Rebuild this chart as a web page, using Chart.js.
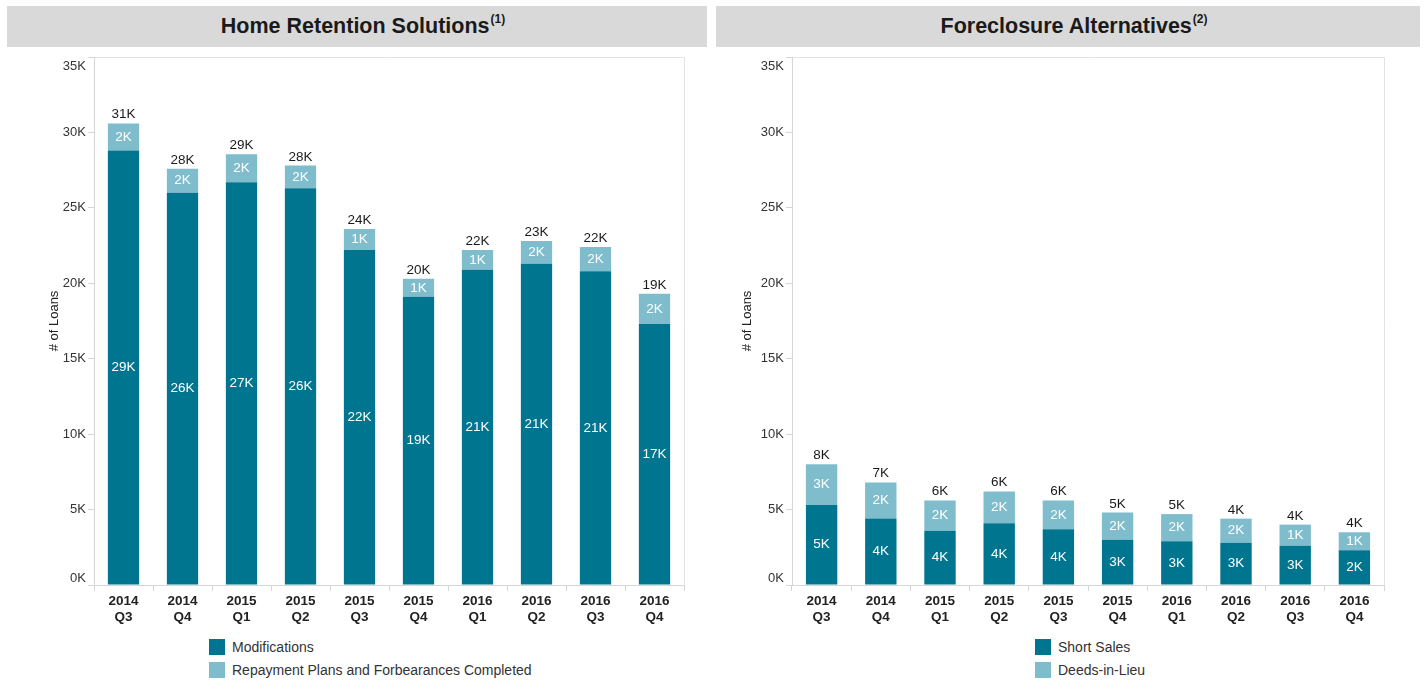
<!DOCTYPE html>
<html lang="en">
<head>
    <meta charset="UTF-8">
    <title>Home Retention Solutions / Foreclosure Alternatives</title>
    <script src="https://cdn.jsdelivr.net/npm/chart.js"></script>
    <style>
        body { margin: 0; background: #fff; font-family: Arial, "Liberation Sans", sans-serif; }
        .page { position: relative; width: 1427px; height: 682px; }
        .header {
            position: absolute; top: 6px; height: 41px; background: #d9d9d9;
            font-weight: bold; font-size: 21.5px; color: #1a1a1a;
            display: flex; align-items: center; justify-content: center;
            box-sizing: border-box; padding-left: 12px;
        }
        .header sup { font-size: 12px; position: relative; top: -8px; margin-left: 1px; }
        .box { position: absolute; top: 48px; height: 582px; }
        .legend { position: absolute; font-size: 14px; color: #333; }
        .legend div { display: flex; align-items: center; height: 23px; }
        .legend span.sw { width: 16px; height: 16px; margin-right: 7px; display: inline-block; }
    </style>
</head>
<body>
<div class="page">
    <div class="header" style="left:7px; width:700px;">Home Retention Solutions<sup>(1)</sup></div>
    <div class="header" style="left:716px; width:704px;">Foreclosure Alternatives<sup>(2)</sup></div>

    <div class="box" style="left:7px; width:700px;"><canvas id="retentionChart"></canvas></div>
    <div class="box" style="left:716px; width:704px;"><canvas id="foreclosureChart"></canvas></div>

    <div class="legend" style="left:209px; top:635px;">
        <div><span class="sw" style="background:#00758f"></span>Modifications</div>
        <div><span class="sw" style="background:#7fbdcd"></span>Repayment Plans and Forbearances Completed</div>
    </div>
    <div class="legend" style="left:1035px; top:635px;">
        <div><span class="sw" style="background:#00758f"></span>Short Sales</div>
        <div><span class="sw" style="background:#7fbdcd"></span>Deeds-in-Lieu</div>
    </div>
</div>

<script>
    // quarters on the x axis
    const quarters = [
        ['2014', 'Q3'], ['2014', 'Q4'], ['2015', 'Q1'], ['2015', 'Q2'], ['2015', 'Q3'],
        ['2015', 'Q4'], ['2016', 'Q1'], ['2016', 'Q2'], ['2016', 'Q3'], ['2016', 'Q4']
    ];

    // values in thousands of loans
    const modifications = [28.8, 26.0, 26.7, 26.3, 22.2, 19.1, 20.9, 21.3, 20.8, 17.3];
    const repaymentPlans = [1.8, 1.6, 1.85, 1.5, 1.4, 1.2, 1.3, 1.5, 1.6, 2.0];

    const shortSales = [5.3, 4.4, 3.6, 4.1, 3.7, 3.0, 2.9, 2.8, 2.6, 2.3];
    const deedsInLieu = [2.7, 2.4, 2.0, 2.1, 1.9, 1.8, 1.8, 1.6, 1.4, 1.2];

    const yTicks = [0, 5, 10, 15, 20, 25, 30, 35];

    const darkTeal = '#00758f';
    const lightTeal = '#7fbdcd';
    const fontFamily = 'Arial, "Liberation Sans", sans-serif';

    // light frame round the plot area
    const frame = {
        id: 'frame',
        beforeDraw(chart) {
            const { ctx, chartArea: a } = chart;
            ctx.save();
            ctx.strokeStyle = '#e3e3e3';
            ctx.lineWidth = 1;
            ctx.beginPath();
            ctx.moveTo(a.left, a.top + 0.5);
            ctx.lineTo(a.right + 0.5, a.top + 0.5);
            ctx.lineTo(a.right + 0.5, a.bottom);
            ctx.stroke();
            ctx.restore();
        }
    };

    // y tick labels, the end ones pulled inside the axis like the original
    const yLabels = {
        id: 'yLabels',
        afterDraw(chart) {
            const { ctx } = chart;
            const y = chart.scales.y;
            ctx.save();
            ctx.font = '13px ' + fontFamily;
            ctx.fillStyle = '#333';
            ctx.textAlign = 'right';
            ctx.textBaseline = 'middle';
            yTicks.forEach(v => {
                let py = y.getPixelForValue(v);
                py = Math.min(Math.max(py, y.top + 9), y.bottom - 7);
                ctx.fillText(v + 'K', y.right - 8, py);
            });
            ctx.restore();
        }
    };

    // segment labels and totals
    const barLabels = {
        id: 'barLabels',
        afterDatasetsDraw(chart) {
            const ctx = chart.ctx;
            ctx.save();
            ctx.font = '13.5px ' + fontFamily;
            ctx.textAlign = 'center';
            const n = chart.data.labels.length;
            for (let i = 0; i < n; i++) {
                let total = 0;
                let topY = null;
                chart.data.datasets.forEach((ds, d) => {
                    const bar = chart.getDatasetMeta(d).data[i];
                    const v = ds.data[i];
                    total += v;
                    ctx.fillStyle = '#ffffff';
                    ctx.textBaseline = 'middle';
                    ctx.fillText(Math.round(v) + 'K', bar.x, (bar.y + bar.base) / 2);
                    topY = bar.y;
                });
                ctx.fillStyle = '#1a1a1a';
                ctx.textBaseline = 'bottom';
                ctx.fillText(Math.round(total) + 'K', chart.getDatasetMeta(0).data[i].x, topY - 2);
            }
            ctx.restore();
        }
    };

    function makeChart(id, names, first, second, axisWidth, rightPad, titlePad) {
        return new Chart(document.getElementById(id), {
            type: 'bar',
            data: {
                labels: quarters,
                datasets: [
                    { label: names[0], data: first, backgroundColor: darkTeal },
                    { label: names[1], data: second, backgroundColor: lightTeal }
                ]
            },
            options: {
                responsive: true,
                maintainAspectRatio: false,
                animation: false,
                categoryPercentage: 1,
                barPercentage: 0.53,
                layout: { padding: { top: 9, right: rightPad } },
                plugins: {
                    legend: { display: false },
                    tooltip: { enabled: false }
                },
                scales: {
                    x: {
                        stacked: true,
                        grid: { display: true, drawOnChartArea: false, tickLength: 6, color: '#d6d6d6', offset: true },
                        border: { color: '#d6d6d6' },
                        ticks: {
                            color: '#222',
                            font: { size: 13.5, weight: 'bold', family: fontFamily },
                            padding: 2
                        },
                        afterFit: s => { s.height = 45; }
                    },
                    y: {
                        stacked: true,
                        min: 0,
                        max: 35,
                        afterBuildTicks: s => { s.ticks = yTicks.map(v => ({ value: v })); },
                        grid: { display: true, drawOnChartArea: false, tickLength: 6, color: '#d6d6d6' },
                        border: { color: '#d6d6d6' },
                        ticks: { display: false },
                        title: {
                            display: true,
                            text: '# of Loans',
                            color: '#222',
                            font: { size: 13, family: fontFamily },
                            padding: { top: titlePad, bottom: 0 }
                        },
                        afterFit: s => { s.width = axisWidth; }
                    }
                }
            },
            plugins: [frame, yLabels, barLabels]
        });
    }

    makeChart('retentionChart', ['Modifications', 'Repayment Plans and Forbearances Completed'],
        modifications, repaymentPlans, 87, 23, 40);
    makeChart('foreclosureChart', ['Short Sales', 'Deeds-in-Lieu'],
        shortSales, deedsInLieu, 76, 36, 24);
</script>
</body>
</html>
